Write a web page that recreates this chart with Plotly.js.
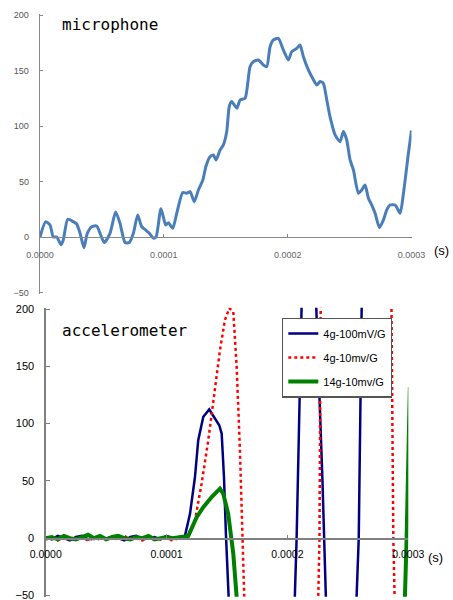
<!DOCTYPE html>
<html>
<head>
<meta charset="utf-8">
<script src="https://cdn.plot.ly/plotly-3.0.1.min.js"></script>
<style>html,body{margin:0;padding:0;background:#fff;}#chart{width:453px;height:600px;}</style>
</head>
<body>
<div id="chart"></div>
<script>
// ---------------- data ----------------
const micTitle = "microphone";
const accTitle = "accelerometer";
const unitLabel = "(s)";
const yTicks = [-50, 0, 50, 100, 150, 200];
const xTicks = [0, 0.0001, 0.0002, 0.0003];
const xTickLabels = ["0.0000", "0.0001", "0.0002", "0.0003"];

const micT = [0, 0.0000046, 0.0000081, 0.0000107, 0.0000135, 0.0000170, 0.0000188, 0.0000224, 0.0000269, 0.0000296,
  0.0000323, 0.0000355, 0.0000382, 0.0000418, 0.0000458, 0.0000485, 0.0000519, 0.0000565, 0.0000611, 0.0000646,
  0.0000687, 0.0000721, 0.0000754, 0.0000789, 0.0000821, 0.0000854, 0.0000883, 0.0000915, 0.0000937, 0.0000977,
  0.0001015, 0.0001037, 0.0001072, 0.0001104, 0.0001153, 0.0001185, 0.0001212, 0.0001246, 0.0001279, 0.0001314,
  0.0001341, 0.0001373, 0.0001400, 0.0001422, 0.0001454, 0.0001481, 0.0001508, 0.0001529, 0.0001548, 0.0001589,
  0.0001616, 0.0001656, 0.0001696, 0.0001723, 0.0001763, 0.0001804, 0.0001831, 0.0001858, 0.0001885, 0.0001925,
  0.0001965, 0.0002006, 0.0002033, 0.0002074, 0.0002100, 0.0002127, 0.0002167, 0.0002195, 0.0002235, 0.0002262,
  0.0002288, 0.0002316, 0.0002342, 0.0002383, 0.0002423, 0.0002450, 0.0002477, 0.0002504, 0.0002531, 0.0002571,
  0.0002598, 0.0002625, 0.0002652, 0.0002679, 0.0002706, 0.0002741, 0.0002773, 0.0002800, 0.0002827, 0.0002868,
  0.0002908, 0.0002935, 0.0002975, 0.0003000];
const micV = [0, 13.8, 10.8, 0, 0, -7, -2.7, 16, 13.8, 11.7,
  3.6, -9.6, 3.3, 9.3, 9.9, 3.3, -5, 3.3, 22.5, 12.3,
  -5, -5, 3.3, 19.8, 9.3, 6.3, 3.3, -1, 0, 25.5,
  10.8, 12.9, 7.8, 21.3, 40, 39.4, 40.8, 31.8, 42.3, 51,
  64, 72.3, 73.9, 69.4, 78.4, 82.9, 95, 118, 122, 116,
  123.4, 125, 153.4, 158, 159.5, 155, 153.4, 171.4, 177.5, 179,
  168.5, 159.5, 167, 170, 173, 162.4, 150.5, 144.4, 137, 140,
  138.4, 123.4, 108.4, 92, 85.9, 95, 87.4, 69.4, 60.4, 39.4,
  42.3, 46.8, 34.9, 28.8, 21.4, 8.4, 15.3, 24.3, 28.8, 28.8,
  21.4, 39.4, 75.4, 96];

const seriesNames = ["4g-100mV/G", "4g-10mv/G", "14g-10mv/G"];

const blueT = [0, 0.000005, 0.00001, 0.000015, 0.00002, 0.000025, 0.00003, 0.000035, 0.00004, 0.000045,
  0.00005, 0.000055, 0.00006, 0.000065, 0.00007, 0.000075, 0.00008, 0.000085, 0.00009, 0.000095,
  0.0001, 0.000105, 0.00011, 0.0001152, 0.0001194, 0.0001235, 0.0001262, 0.0001304, 0.0001353, 0.0001386,
  0.0001436, 0.0001456, 0.0001475, 0.0001491, 0.0001510, 0.000178, 0.0002061, 0.0002076, 0.0002117, 0.000218,
  0.0002239, 0.0002290, 0.0002318, 0.0002445, 0.0002572, 0.0002590, 0.0002614, 0.00028, 0.0003];
const blueV = [1, -1, 2, 0, -2, 1, 2, -1, 0, 2,
  -1, 1, 0, -2, 1, 2, -1, 0, 1, -1,
  2, 0, 1, 2, 21.3, 53.4, 85.5, 105.9, 112.3, 107.3,
  98.6, 91.3, 53.4, 3.8, -51.6, -700, -51.6, 0, 200.7, 500,
  200, 50, -51.6, -500, -51.6, 0, 200, 800, 900];

const redT = [0, 0.000005, 0.00001, 0.000015, 0.00002, 0.000025, 0.00003, 0.000035, 0.00004, 0.000045,
  0.00005, 0.000055, 0.00006, 0.000065, 0.00007, 0.000075, 0.00008, 0.000085, 0.00009, 0.000095,
  0.0001, 0.000105, 0.00011, 0.0001166, 0.0001235, 0.0001290, 0.0001345, 0.0001386, 0.0001442, 0.0001483,
  0.0001519, 0.0001552, 0.0001580, 0.0001607, 0.0001630, 0.0001643, 0.000195, 0.0002255, 0.0002265, 0.0002275,
  0.000257, 0.0002861, 0.0002876, 0.0002889, 0.0003];
const redV = [-1, 0, -2, 1, -1, 0, 1, -2, 0, -1,
  1, 0, -1, 2, -1, 0, -2, 1, 0, -1,
  0, -2, 0, 0, 15.5, 47.6, 85.5, 120.5, 164.2, 190.5,
  200.7, 197.7, 149.6, 76.7, 3.8, -51.6, -800, -51.6, 0, 200,
  1200, 200, 0, -51.6, -600];

const greenT = [0, 0.000005, 0.00001, 0.000015, 0.00002, 0.000025, 0.00003, 0.000035, 0.00004, 0.000045,
  0.00005, 0.000055, 0.00006, 0.000065, 0.00007, 0.000075, 0.00008, 0.000085, 0.00009, 0.000095,
  0.0001, 0.000105, 0.00011, 0.0001180, 0.0001249, 0.0001304, 0.0001373, 0.0001442, 0.0001469, 0.0001510,
  0.0001552, 0.0001580, 0.000228, 0.0002972, 0.0002986, 0.0003013];
const greenV = [0, 1, -1, 2, 0, -1, 1, 3, 0, 2,
  -1, 1, 2, 0, -1, 1, 0, 2, -1, 0,
  1, 0, 1, 2, 18.4, 27.1, 35.9, 43.2, 38.8, 21.3,
  -13.6, -51.6, -400, -51.6, 0, 132];

// ---------------- layout helpers ----------------
const W = 453, H = 600;
const px = v => v / W;
const py = v => 1 - v / H;

const yMin = -50, yMax = 200, yPad = 1;
// top panel pixel frame (pixel rows of y=200 and y=-50)
const topL = 40, topR = 411.5, topT = 15, topB = 292.5;
// bottom panel pixel frame
const botL = 45.7, botR = 408.3, botT = 309, botB = 595.5;

function yDomain(T, B) {
  const s = (B - T) / (yMax - yMin);
  return [py(B + yPad * s), py(T - yPad * s)];
}
function zeroPos(T, B) {
  const s = (B - T) / (yMax - yMin);
  return py(B - (0 - yMin) * s);
}
const topYdom = yDomain(topT, topB);
const botYdom = yDomain(botT, botB);
const yRange = [yMin - yPad, yMax + yPad];

const axisGray = "#888888";

const traces = [
  {x: micT, y: micV, type: "scatter", mode: "lines", xaxis: "x", yaxis: "y",
   line: {color: "#4a7ebb", width: 3, shape: "spline", smoothing: 0.6}, showlegend: false, hoverinfo: "skip"},
  {x: blueT, y: blueV, type: "scatter", mode: "lines", xaxis: "x2", yaxis: "y2", name: seriesNames[0],
   legendgroup: "a", line: {color: "#000080", width: 2.5}},
  {x: redT, y: redV, type: "scatter", mode: "lines", xaxis: "x2", yaxis: "y2", name: seriesNames[1],
   legendgroup: "b", line: {color: "#ff0000", width: 2.5, dash: "dot"}},
  {x: greenT, y: greenV, type: "scatter", mode: "lines", xaxis: "x2", yaxis: "y2", name: seriesNames[2],
   legendgroup: "c", line: {color: "#008000", width: 4}}
];

const layout = {
  width: W, height: H,
  margin: {l: 0, r: 0, t: 0, b: 0},
  paper_bgcolor: "#ffffff", plot_bgcolor: "rgba(0,0,0,0)",
  showlegend: true,
  xaxis: {
    domain: [px(topL), px(topR)], range: [0, 0.0003], anchor: "free",
    position: zeroPos(topT, topB),
    tickvals: xTicks, ticktext: xTickLabels, showgrid: false, zeroline: false,
    showline: true, linecolor: axisGray, linewidth: 1.3,
    ticks: "inside", ticklen: 3, tickcolor: axisGray,
    tickfont: {family: "Liberation Sans, Arial, sans-serif", size: 9, color: "#666666"},
    ticklabelstandoff: 9
  },
  yaxis: {
    domain: topYdom, range: yRange, anchor: "x",
    tickvals: yTicks, showgrid: false, zeroline: false,
    showline: true, linecolor: axisGray, linewidth: 1.3,
    ticks: "inside", ticklen: 3, tickcolor: axisGray, ticklabeloverflow: "allow",
    tickfont: {family: "Liberation Sans, Arial, sans-serif", size: 9, color: "#555555"},
    ticklabelstandoff: 8
  },
  xaxis2: {
    domain: [px(botL), px(botR)], range: [0, 0.0003], anchor: "free",
    position: zeroPos(botT, botB),
    tickvals: xTicks, ticktext: xTickLabels, showgrid: false, zeroline: false,
    showline: true, linecolor: "#808080", linewidth: 1.3,
    ticks: "inside", ticklen: 3, tickcolor: "#808080",
    tickfont: {family: "Liberation Sans, Arial, sans-serif", size: 10.5, color: "#000000"},
    ticklabelstandoff: 6
  },
  yaxis2: {
    domain: botYdom, range: yRange, anchor: "x2",
    tickvals: yTicks, showgrid: false, zeroline: false,
    showline: true, linecolor: "#808080", linewidth: 1.3,
    ticks: "inside", ticklen: 4, tickcolor: "#808080", ticklabeloverflow: "allow",
    tickfont: {family: "Liberation Sans, Arial, sans-serif", size: 11, color: "#000000"},
    ticklabelstandoff: 8
  },
  legend: {
    x: px(282), y: py(317.7), xanchor: "left", yanchor: "top",
    bgcolor: "#ffffff", bordercolor: "#555555", borderwidth: 1.3,
    font: {family: "Liberation Sans, Arial, sans-serif", size: 11, color: "#000000"},
    traceorder: "grouped", tracegroupgap: 5, entrywidth: 104, entrywidthmode: "pixels"
  },
  annotations: [
    {text: micTitle, xref: "paper", yref: "paper", x: px(60), y: py(25), xanchor: "left", yanchor: "middle",
     showarrow: false, font: {family: "DejaVu Sans Mono, monospace", size: 16, color: "#000000"}},
    {text: accTitle, xref: "paper", yref: "paper", x: px(60), y: py(330), xanchor: "left", yanchor: "middle",
     showarrow: false, font: {family: "DejaVu Sans Mono, monospace", size: 16, color: "#000000"}},
    {text: unitLabel, xref: "paper", yref: "paper", x: px(441), y: py(250), xanchor: "center", yanchor: "middle",
     showarrow: false, font: {family: "Liberation Sans, Arial, sans-serif", size: 13, color: "#000000"}},
    {text: unitLabel, xref: "paper", yref: "paper", x: px(435), y: py(557), xanchor: "center", yanchor: "middle",
     showarrow: false, font: {family: "Liberation Sans, Arial, sans-serif", size: 13, color: "#000000"}}
  ]
};

Plotly.newPlot("chart", traces, layout, {staticPlot: true, displayModeBar: false});
</script>
</body>
</html>
